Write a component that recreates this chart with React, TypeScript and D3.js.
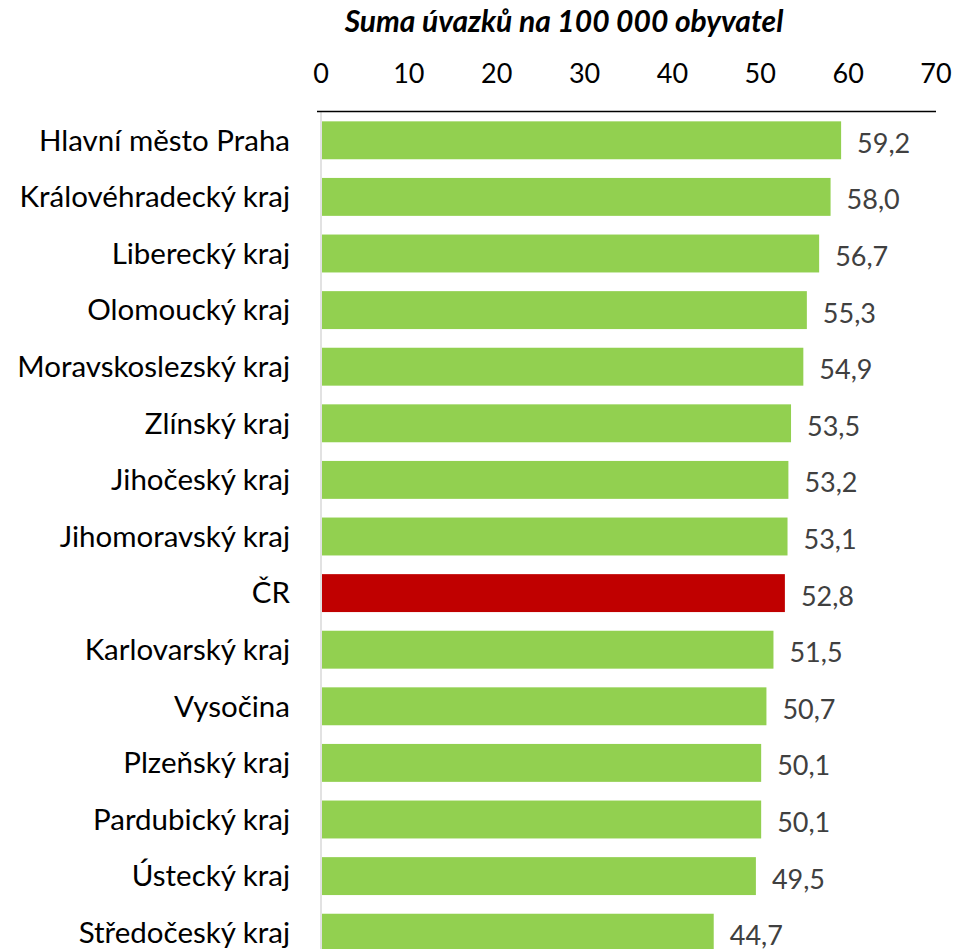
import React, { useEffect, useRef } from 'react';
import * as d3 from 'd3';

const regions = [
  'Hlavní město Praha',
  'Královéhradecký kraj',
  'Liberecký kraj',
  'Olomoucký kraj',
  'Moravskoslezský kraj',
  'Zlínský kraj',
  'Jihočeský kraj',
  'Jihomoravský kraj',
  'ČR',
  'Karlovarský kraj',
  'Vysočina',
  'Plzeňský kraj',
  'Pardubický kraj',
  'Ústecký kraj',
  'Středočeský kraj',
];
const values = [59.2, 58.0, 56.7, 55.3, 54.9, 53.5, 53.2, 53.1, 52.8, 51.5, 50.7, 50.1, 50.1, 49.5, 44.7];
const ticks = [0, 10, 20, 30, 40, 50, 60, 70];
const title = 'Suma úvazků na 100 000 obyvatel';
const highlight = 'ČR';

const FONT = 'Lato, "Open Sans", sans-serif';

const App = () => {
  const svgRef = useRef<SVGSVGElement>(null);

  useEffect(() => {
    const svg = d3.select(svgRef.current);
    svg.selectAll('*').remove();

    const width = 954;
    const margin = { top: 112, left: 321, right: 18 };
    const step = 56.6;

    const x = d3.scaleLinear().domain([0, 70]).range([margin.left, width - margin.right]);
    const y = d3.scaleBand()
      .domain(regions)
      .range([margin.top, margin.top + step * regions.length])
      .paddingInner(0.33)
      .paddingOuter(0.165);

    const fmt = (v: number) => d3.format('.1f')(v).replace('.', ',');

    // title
    svg.append('text')
      .attr('x', 564)
      .attr('y', 32)
      .attr('text-anchor', 'middle')
      .style('font-family', FONT)
      .style('font-size', '30px')
      .style('font-weight', 'bold')
      .style('font-style', 'italic')
      .text(title);

    // top tick labels
    svg.append('g')
      .selectAll('text')
      .data(ticks)
      .join('text')
      .attr('x', d => x(d))
      .attr('y', 83)
      .attr('text-anchor', 'middle')
      .style('font-family', FONT)
      .style('font-size', '27px')
      .attr('fill', '#000')
      .text(d => d);

    // bars
    svg.append('g')
      .selectAll('rect')
      .data(values)
      .join('rect')
      .attr('x', x(0) + 1)
      .attr('y', (d, i) => y(regions[i])!)
      .attr('width', d => x(d) - x(0) - 1)
      .attr('height', y.bandwidth())
      .attr('fill', (d, i) => (regions[i] === highlight ? '#c00000' : '#92d050'));

    // left axis line (gray)
    svg.append('line')
      .attr('x1', x(0)).attr('x2', x(0))
      .attr('y1', margin.top).attr('y2', 949)
      .attr('stroke', '#d9d9d9')
      .attr('stroke-width', 1.5);

    // top axis line
    svg.append('line')
      .attr('x1', x(0) - 4).attr('x2', x(70))
      .attr('y1', margin.top - 0.5).attr('y2', margin.top - 0.5)
      .attr('stroke', '#000')
      .attr('stroke-width', 1.5);

    // category labels
    svg.append('g')
      .selectAll('text')
      .data(regions)
      .join('text')
      .attr('x', 290)
      .attr('y', d => y(d)! + y.bandwidth() / 2)
      .attr('dy', '0.35em')
      .attr('text-anchor', 'end')
      .style('font-family', FONT)
      .style('font-size', '29.5px')
      .attr('fill', '#000')
      .text(d => d);

    // value labels
    svg.append('g')
      .selectAll('text')
      .data(values)
      .join('text')
      .attr('x', d => x(d) + 16)
      .attr('y', (d, i) => y(regions[i])! + y.bandwidth() / 2 + 3)
      .attr('dy', '0.35em')
      .style('font-family', FONT)
      .style('font-size', '27px')
      .attr('fill', '#404040')
      .text(d => fmt(d));
  }, []);

  return (
    <div style={{ position: 'absolute', left: 0, top: 0 }}>
      <svg ref={svgRef} width={954} height={949} style={{ display: 'block' }}></svg>
    </div>
  );
};

export default App;
